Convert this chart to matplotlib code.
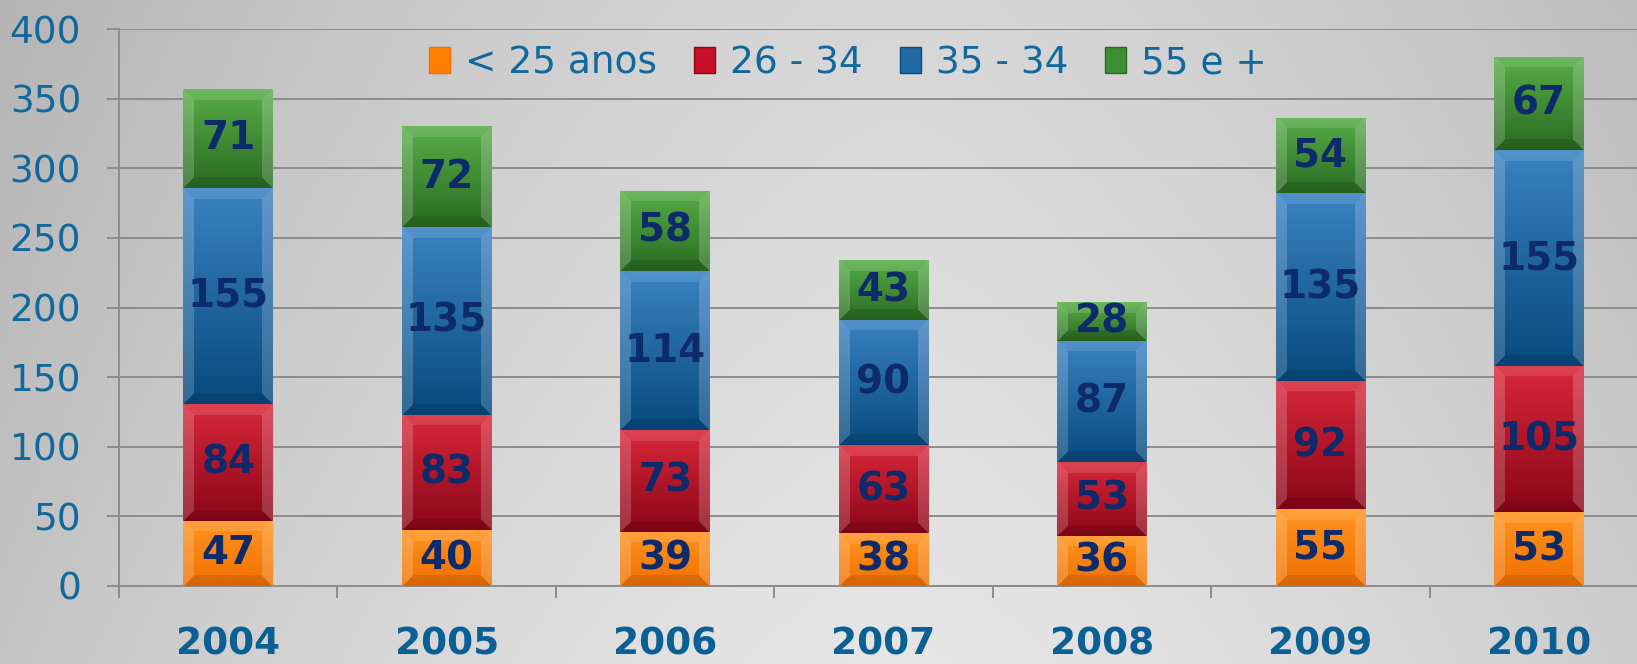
import matplotlib.pyplot as plt
import numpy as np
from matplotlib.patches import Patch

# --- data ---
years = ['2004', '2005', '2006', '2007', '2008', '2009', '2010']
series_names = ['< 25 anos', '26 - 34', '35 - 34', '55 e +']
menos_25 = [47, 40, 39, 38, 36, 55, 53]
de_26_34 = [84, 83, 73, 63, 53, 92, 105]
de_35_34 = [155, 135, 114, 90, 87, 135, 155]
mais_55 = [71, 72, 58, 43, 28, 54, 67]
y_ticks = [0, 50, 100, 150, 200, 250, 300, 350, 400]

# cores: (topo claro, base escura, cor da legenda)
colors = [
    ('#ff9420', '#f07000', '#ff8000'),
    ('#d8283a', '#8a0618', '#c8102a'),
    ('#3a82c2', '#074a7e', '#1f6aa5'),
    ('#58ae48', '#2a6a22', '#3d8f35'),
]
tick_color = '#11689c'
label_color = '#0d2a6b'
grid_color = '#8c8c8c'


def hex_rgb(h):
    h = h.lstrip('#')
    return np.array([int(h[i:i + 2], 16) / 255 for i in (0, 2, 4)])


def bevel_image(top, bottom, w, h, b=11):
    """gradiente vertical com bordas em chanfro (estilo Excel)."""
    top, bottom = hex_rgb(top), hex_rgb(bottom)
    v = np.linspace(0, 1, h)[:, None, None]
    img = top * (1 - v) + bottom * v
    img = np.repeat(img, w, axis=1)
    yy, xx = np.mgrid[0:h, 0:w]
    dl, dr, dt, db = xx, w - 1 - xx, yy, h - 1 - yy
    dmin = np.minimum(np.minimum(dl, dr), np.minimum(dt, db))
    edge = dmin < b
    side = edge & (np.minimum(dl, dr) <= np.minimum(dt, db))
    topb = edge & (dt < db) & ~side
    botb = edge & (db <= dt) & ~side
    img[side] = img[side] * 0.82 + 0.18
    img[topb] = img[topb] * 0.88 + 0.12
    img[botb] = img[botb] * 0.9
    return np.clip(img, 0, 1)


fig = plt.figure(figsize=(16.37, 6.64), dpi=100)

# fundo em degradê cinza
bg = fig.add_axes([0, 0, 1, 1], zorder=-10)
gx = np.linspace(0, 1, 400)[None, :]
gy = np.linspace(0, 1, 200)[:, None]
shade = 0.90 - 0.16 * np.abs(gx - 0.55) ** 1.5 * 2 - 0.06 * (1 - gy)
shade = np.clip(shade, 0, 1)
bg.imshow(np.dstack([shade] * 3), aspect='auto', extent=[0, 1, 1, 0])
bg.axis('off')

ax = fig.add_axes([119 / 1637, 78 / 664, 1529 / 1637, 557 / 664])
ax.patch.set_alpha(0)
x = np.arange(len(years))
ax.set_xlim(-0.5, len(years) - 0.5)
ax.set_ylim(0, 400)

stack = [menos_25, de_26_34, de_35_34, mais_55]
bottoms = np.zeros(len(years))
width = 0.41
fig.canvas.draw()
for vals, (ctop, cbot, cleg), name in zip(stack, colors, series_names):
    bars = ax.bar(x, vals, width, bottom=bottoms, color=cleg, zorder=3,
                  linewidth=0)
    for p, v in zip(bars.patches, vals):
        x0, y0 = p.get_x(), p.get_y()
        x1, y1 = x0 + p.get_width(), y0 + p.get_height()
        (px0, py0), (px1, py1) = ax.transData.transform([(x0, y0), (x1, y1)])
        w_px, h_px = max(int(px1 - px0), 2), max(int(py1 - py0), 2)
        img = bevel_image(ctop, cbot, w_px, h_px)
        im = ax.imshow(img, extent=[x0, x1, y0, y1], aspect='auto',
                       zorder=4, interpolation='nearest')
        im.set_clip_path(p)
        ax.text(p.get_x() + p.get_width() / 2, y0 + v / 2, str(v),
                ha='center', va='center', fontsize=28, fontweight='bold',
                color=label_color, zorder=6)
    bottoms += np.array(vals)

ax.set_xlim(-0.5, len(years) - 0.5)
ax.set_ylim(0, 400)
ax.set_yticks(y_ticks)
ax.set_xticks(np.arange(len(years) + 1) - 0.5, minor=False)
ax.set_xticklabels([])
ax.set_xticks(x, minor=True)
ax.set_xticklabels(years, minor=True)
ax.tick_params(axis='x', which='major', length=8.6, width=1.4,
               color=grid_color)
ax.tick_params(axis='x', which='minor', length=0, pad=29,
               labelsize=27, labelcolor='#0a5f94')
for t in ax.get_xticklabels(minor=True):
    t.set_fontweight('bold')
ax.tick_params(axis='y', length=8.6, width=1.4, color=grid_color, pad=18.7,
               labelsize=27, labelcolor=tick_color)
ax.yaxis.grid(True, color=grid_color, linewidth=1.4, zorder=1)
ax.set_axisbelow(True)
for s in ['top', 'right']:
    ax.spines[s].set_visible(False)
for s in ['left', 'bottom']:
    ax.spines[s].set_color(grid_color)
    ax.spines[s].set_linewidth(1.4)

handles = [Patch(facecolor=c[2], edgecolor=c[1], linewidth=1) for c in colors]
leg = fig.legend(handles, series_names, loc='center',
                 bbox_to_anchor=(0.518, 0.905), ncol=4, frameon=False,
                 fontsize=27, handlelength=0.55, handleheight=0.7,
                 handletextpad=0.4, columnspacing=1.0)
for t in leg.get_texts():
    t.set_color(tick_color)

fig.savefig('out.png', dpi=100)
